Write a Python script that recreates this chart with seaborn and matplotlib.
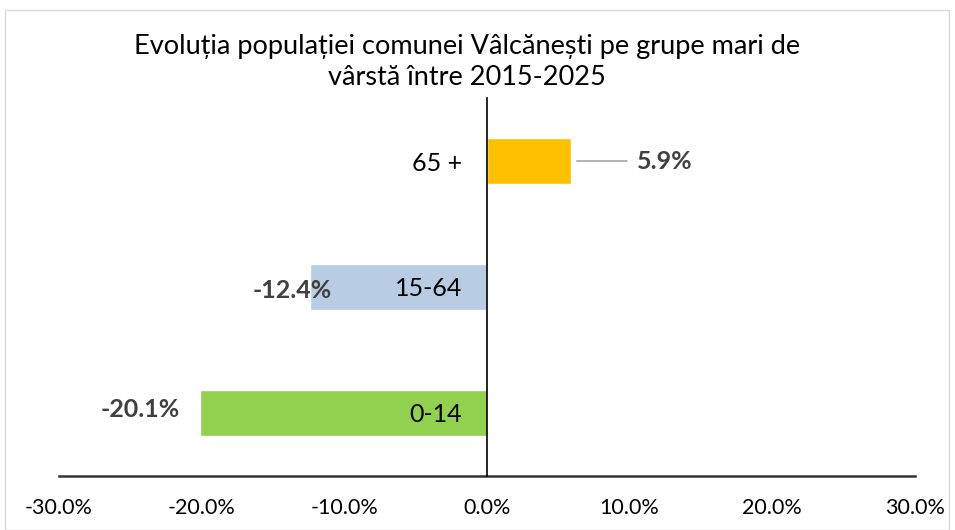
import matplotlib
matplotlib.use('Agg')
import matplotlib.pyplot as plt
import seaborn as sns
import pandas as pd
from matplotlib.patches import Rectangle
from matplotlib.ticker import FuncFormatter

# date: evolutia pe grupe de varsta 2015-2025
groups = ['65 +', '15-64', '0-14']
change = [5.9, -12.4, -20.1]
bar_colors = ['#FFC000', '#B8CCE4', '#92D050']
x_ticks = [-30, -20, -10, 0, 10, 20, 30]

df = pd.DataFrame({'grupa': groups, 'variatie': change})

sns.set_theme(style='white')
plt.rcParams['font.family'] = ['Lato', 'DejaVu Sans']

fig = plt.figure(figsize=(9.55, 5.3), dpi=100)
ax = fig.add_axes([59 / 955, 1 - 476 / 530, 856 / 955, 378 / 530])

sns.barplot(data=df, x='variatie', y='grupa', hue='grupa', palette=bar_colors,
            order=groups, orient='h', width=0.365, legend=False, ax=ax, saturation=1)

ax.set_xlim(-30, 30)
ax.set_ylim(2.5, -0.5)
ax.set_xticks(x_ticks)
ax.xaxis.set_major_formatter(FuncFormatter(lambda v, p: f'{v:.1f}%'))
ax.set_xlabel('')
ax.set_ylabel('')

# axa verticala la zero, etichetele peste bare
ax.set_axisbelow(False)
ax.yaxis.set_zorder(10)
ax.spines['left'].set_position(('data', 0))
ax.spines['left'].set_color('black')
ax.spines['left'].set_linewidth(1.2)
ax.spines['left'].set_zorder(10)
ax.spines['bottom'].set_color('#333333')
ax.spines['bottom'].set_linewidth(1.8)
ax.spines['top'].set_visible(False)
ax.spines['right'].set_visible(False)
ax.tick_params(axis='y', length=0, pad=18, labelsize=18, labelcolor='black')
ax.tick_params(axis='x', length=0, pad=16, labelsize=15.5, labelcolor='black')

# etichete de date
lbl = dict(fontsize=18, fontweight='bold', color='#404040', va='center', zorder=11)
for i, v in enumerate(change):
    if v > 0:
        ax.annotate('', xy=(v + 0.2, i), xytext=(v + 4.1, i),
                    arrowprops=dict(arrowstyle='-', color='#A6A6A6', lw=1.2))
        ax.text(v + 4.6, i, f'{v:.1f}%', ha='left', **lbl)
    elif i == 2:
        ax.text(v - 1.4, i - 0.03, f'{v:.1f}%', ha='right', **lbl)
    else:
        ax.text(v + 1.55, i + 0.03, f'{v:.1f}%', ha='right', **lbl)

fig.text(0.489, 0.883, 'Evoluția populației comunei Vâlcănești pe grupe mari de\nvârstă între 2015-2025',
         ha='center', va='center', fontsize=19.5, linespacing=1.3, color='black')

fig.patches.append(Rectangle((5 / 955, 0.0), 944 / 955, 1 - 10 / 530,
                             transform=fig.transFigure, fill=False,
                             edgecolor='#D9D9D9', lw=1.0))

fig.savefig('out.png', dpi=100, facecolor='white')
